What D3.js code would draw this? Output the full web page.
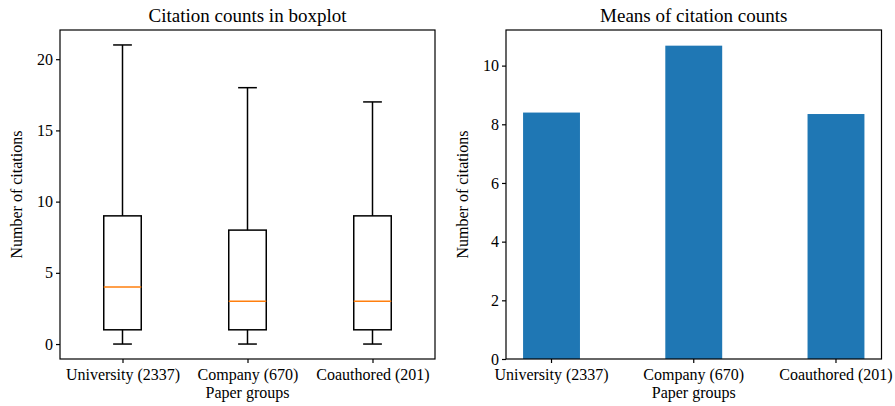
<!DOCTYPE html>
<meta charset="utf-8">
<script src="https://d3js.org/d3.v7.min.js"></script>
<style>
body { margin: 0; background: #fff; }
svg text { font-family: "Liberation Serif", "Times New Roman", serif; fill: #000; }
.axis path, .axis line { stroke: #000; stroke-width: 1.2; }
</style>
<body></body>
<script>

// data
var groups = ["University (2337)", "Company (670)", "Coauthored (201)"];
var whiskerLow = [0, 0, 0];
var q1 = [1, 1, 1];
var medians = [4, 3, 3];
var q3 = [9, 8, 9];
var whiskerHigh = [21, 18, 17];
var means = [8.40, 10.68, 8.35];
var boxTicks = [0, 5, 10, 15, 20];
var meanTicks = [0, 2, 4, 6, 8, 10];

var svg = d3.select("body").append("svg")
    .attr("width", 895)
    .attr("height", 406);

// ---------- left: boxplot ----------
var left = {x0: 60, x1: 435, y0: 30, y1: 359};

var xBox = d3.scalePoint()
  .domain(groups)
  .range([left.x0, left.x1])
  .padding(0.5);

var yBox = d3.scaleLinear()
  .domain([-1.05, 22.05])
  .range([left.y1, left.y0]);

var g1 = svg.append("g");

var boxW = 37.5, capW = 18.75;

var boxes = g1.selectAll(".box")
  .data(groups)
  .enter().append("g")
  .attr("class", "box");

boxes.append("line")
  .attr("x1", d => xBox(d)).attr("x2", d => xBox(d))
  .attr("y1", (d, i) => yBox(q3[i])).attr("y2", (d, i) => yBox(whiskerHigh[i]))
  .attr("stroke", "#000").attr("stroke-width", 1.5);
boxes.append("line")
  .attr("x1", d => xBox(d)).attr("x2", d => xBox(d))
  .attr("y1", (d, i) => yBox(q1[i])).attr("y2", (d, i) => yBox(whiskerLow[i]))
  .attr("stroke", "#000").attr("stroke-width", 1.5);
boxes.append("line")
  .attr("x1", d => xBox(d) - capW / 2).attr("x2", d => xBox(d) + capW / 2)
  .attr("y1", (d, i) => yBox(whiskerHigh[i])).attr("y2", (d, i) => yBox(whiskerHigh[i]))
  .attr("stroke", "#000").attr("stroke-width", 1.5);
boxes.append("line")
  .attr("x1", d => xBox(d) - capW / 2).attr("x2", d => xBox(d) + capW / 2)
  .attr("y1", (d, i) => yBox(whiskerLow[i])).attr("y2", (d, i) => yBox(whiskerLow[i]))
  .attr("stroke", "#000").attr("stroke-width", 1.5);
boxes.append("rect")
  .attr("x", d => xBox(d) - boxW / 2)
  .attr("width", boxW)
  .attr("y", (d, i) => yBox(q3[i]))
  .attr("height", (d, i) => yBox(q1[i]) - yBox(q3[i]))
  .attr("fill", "none").attr("stroke", "#000").attr("stroke-width", 1.5);
boxes.append("line")
  .attr("x1", d => xBox(d) - boxW / 2).attr("x2", d => xBox(d) + boxW / 2)
  .attr("y1", (d, i) => yBox(medians[i])).attr("y2", (d, i) => yBox(medians[i]))
  .attr("stroke", "#ff7f0e").attr("stroke-width", 1.5);

// frame
g1.append("rect")
  .attr("x", left.x0).attr("y", left.y0)
  .attr("width", left.x1 - left.x0).attr("height", left.y1 - left.y0)
  .attr("fill", "none").attr("stroke", "#000").attr("stroke-width", 1.2);

g1.append("g").attr("class", "axis")
  .attr("transform", `translate(0,${left.y1})`)
  .call(d3.axisBottom(xBox).tickSize(4).tickSizeOuter(0))
  .call(g => g.select(".domain").remove())
  .selectAll("text").attr("font-size", 16).attr("dy", "0.85em");

g1.append("g").attr("class", "axis")
  .attr("transform", `translate(${left.x0},0)`)
  .call(d3.axisLeft(yBox).tickValues(boxTicks).tickSize(4))
  .call(g => g.select(".domain").remove())
  .selectAll("text").attr("font-size", 16);

g1.append("text")
  .attr("x", (left.x0 + left.x1) / 2).attr("y", 22)
  .attr("text-anchor", "middle").attr("font-size", 19)
  .text("Citation counts in boxplot");
g1.append("text")
  .attr("x", (left.x0 + left.x1) / 2).attr("y", 398)
  .attr("text-anchor", "middle").attr("font-size", 16)
  .text("Paper groups");
g1.append("text")
  .attr("transform", `translate(22,${(left.y0 + left.y1) / 2}) rotate(-90)`)
  .attr("text-anchor", "middle").attr("font-size", 16)
  .text("Number of citations");

// ---------- right: means ----------
var right = {x0: 506, x1: 881.5, y0: 30, y1: 359};

var xBar = d3.scaleBand()
  .domain(groups)
  .range([right.x0, right.x1])
  .paddingInner(0.6)
  .paddingOuter(0.12);

var yBar = d3.scaleLinear()
  .domain([0, 10.68 * 1.05])
  .range([right.y1, right.y0]);

var g2 = svg.append("g");

g2.selectAll(".bar")
  .data(groups)
  .enter().append("rect")
  .attr("class", "bar")
  .attr("x", d => xBar(d))
  .attr("width", xBar.bandwidth())
  .attr("y", (d, i) => yBar(means[i]))
  .attr("height", (d, i) => yBar(0) - yBar(means[i]))
  .attr("fill", "#1f77b4");

g2.append("rect")
  .attr("x", right.x0).attr("y", right.y0)
  .attr("width", right.x1 - right.x0).attr("height", right.y1 - right.y0)
  .attr("fill", "none").attr("stroke", "#000").attr("stroke-width", 1.2);

g2.append("g").attr("class", "axis")
  .attr("transform", `translate(0,${right.y1})`)
  .call(d3.axisBottom(xBar).tickSize(4).tickSizeOuter(0))
  .call(g => g.select(".domain").remove())
  .selectAll("text").attr("font-size", 16).attr("dy", "0.85em");

g2.append("g").attr("class", "axis")
  .attr("transform", `translate(${right.x0},0)`)
  .call(d3.axisLeft(yBar).tickValues(meanTicks).tickSize(4))
  .call(g => g.select(".domain").remove())
  .selectAll("text").attr("font-size", 16);

g2.append("text")
  .attr("x", (right.x0 + right.x1) / 2).attr("y", 22)
  .attr("text-anchor", "middle").attr("font-size", 19)
  .text("Means of citation counts");
g2.append("text")
  .attr("x", (right.x0 + right.x1) / 2).attr("y", 398)
  .attr("text-anchor", "middle").attr("font-size", 16)
  .text("Paper groups");
g2.append("text")
  .attr("transform", `translate(468,${(right.y0 + right.y1) / 2}) rotate(-90)`)
  .attr("text-anchor", "middle").attr("font-size", 16)
  .text("Number of citations");

</script>
